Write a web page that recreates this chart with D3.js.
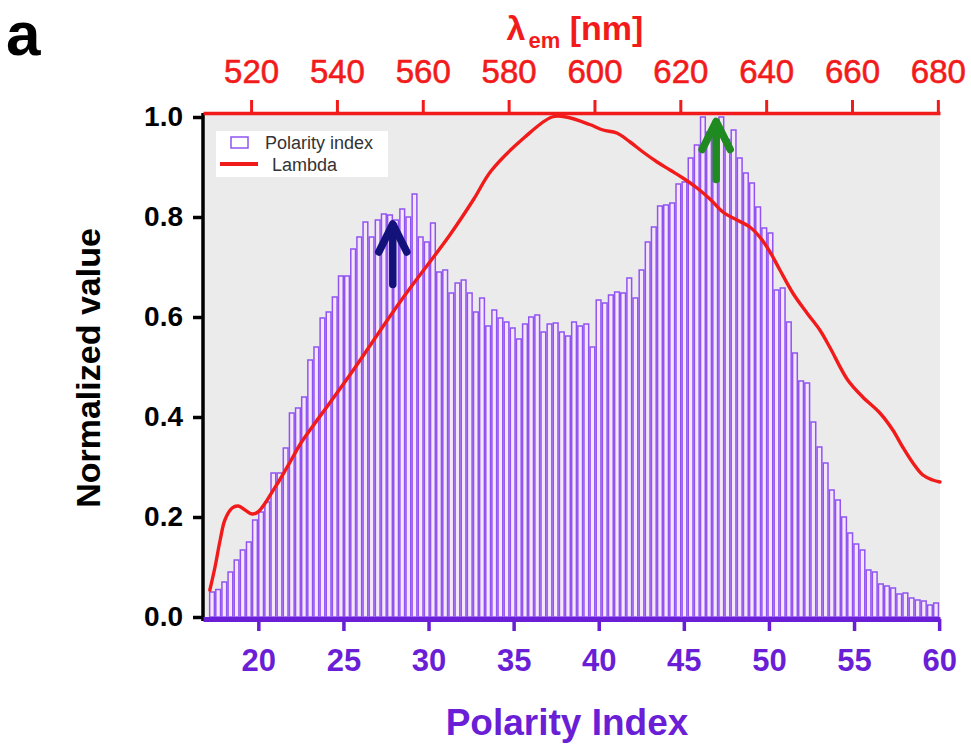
<!DOCTYPE html>
<html>
<head>
<meta charset="utf-8">
<script src="https://cdn.jsdelivr.net/npm/d3@7"></script>
<style>
  html, body { margin: 0; padding: 0; background: #ffffff; }
  svg { display: block; }
  text { font-family: "Liberation Sans", Arial, sans-serif; }
</style>
</head>
<body>
<svg id="chart" width="971" height="747"></svg>
<script>
// ---------------- data ----------------
const binStart = 17.1;
const binWidth = 0.3605;
const polarityCounts = [
  0.050, 0.055, 0.070, 0.090, 0.114, 0.134, 0.150, 0.194, 0.210, 0.230,
  0.288, 0.288, 0.338, 0.408, 0.418, 0.440, 0.514, 0.540, 0.598, 0.610,
  0.640, 0.682, 0.682, 0.736, 0.760, 0.790, 0.760, 0.794, 0.806, 0.804,
  0.794, 0.816, 0.800, 0.846, 0.760, 0.750, 0.788, 0.690, 0.694, 0.648,
  0.668, 0.674, 0.648, 0.610, 0.638, 0.582, 0.614, 0.598, 0.590, 0.578,
  0.556, 0.586, 0.600, 0.604, 0.570, 0.586, 0.588, 0.570, 0.562, 0.590,
  0.582, 0.586, 0.540, 0.634, 0.628, 0.644, 0.650, 0.648, 0.678, 0.638,
  0.694, 0.750, 0.780, 0.822, 0.824, 0.828, 0.866, 0.870, 0.918, 0.944,
  1.000, 0.970, 0.960, 1.000, 0.955, 0.974, 0.918, 0.888, 0.868, 0.820,
  0.778, 0.768, 0.654, 0.658, 0.590, 0.528, 0.472, 0.468, 0.390, 0.340,
  0.308, 0.254, 0.234, 0.200, 0.168, 0.146, 0.134, 0.094, 0.090, 0.066,
  0.062, 0.058, 0.046, 0.048, 0.038, 0.034, 0.032, 0.024, 0.028
];

const lambdaNm = [
  510.4, 511.6, 512.8, 513.9, 515.6, 517.0, 518.6, 520.2, 521.6, 523.3,
  524.9, 526.8, 529.1, 531.4, 534.4, 538.4, 543.5, 554.7, 566.3, 571.9,
  575.9, 583.8, 590.1, 593.4, 598.9, 602.0, 605.2, 608.3, 611.3, 614.6,
  617.6, 620.6, 623.9, 626.9, 629.9, 633.2, 636.2, 638.5, 640.9, 643.2,
  646.2, 649.5, 652.5, 654.8, 659.0, 662.5, 666.5, 669.5, 671.8, 674.2,
  676.5, 678.8, 680.5
];
const lambdaValue = [
  0.054, 0.100, 0.154, 0.194, 0.218, 0.222, 0.214, 0.206, 0.210, 0.228,
  0.250, 0.276, 0.310, 0.345, 0.382, 0.429, 0.490, 0.630, 0.764, 0.836,
  0.892, 0.960, 1.000, 1.000, 0.985, 0.974, 0.968, 0.950, 0.930, 0.910,
  0.894, 0.878, 0.858, 0.836, 0.810, 0.794, 0.780, 0.760, 0.730, 0.694,
  0.648, 0.608, 0.574, 0.540, 0.474, 0.440, 0.408, 0.374, 0.340, 0.308,
  0.284, 0.274, 0.270
];

const yTicks = [0.0, 0.2, 0.4, 0.6, 0.8, 1.0];
const xBottomTicks = [20, 25, 30, 35, 40, 45, 50, 55, 60];
const xTopTicks = [520, 540, 560, 580, 600, 620, 640, 660, 680];
const legendLabels = ["Polarity index", "Lambda"];
// arrows mark polarity-index positions
const arrowPositions = [{pi: 27.9, tip: 0.79, tail: 0.665, color: "#12127a"},
                        {pi: 46.9, tip: 0.995, tail: 0.875, color: "#1f8a1f"}];

// ---------------- drawing ----------------
const svg = d3.select("#chart");
const pLeft = 203, pRight = 940, pTop = 113, pBottom = 619;

const x = d3.scaleLinear().domain([16.75, 60.05]).range([pLeft, pRight]);
const xTop = d3.scaleLinear().domain([508.8, 680.5]).range([pLeft, pRight]);
const y = d3.scaleLinear().domain([0, 1]).range([617, 117]);

const purple = "#6a1fd6";
const red = "#f21b1b";

// plot background
svg.append("rect").attr("x", pLeft).attr("y", pTop).attr("width", pRight - pLeft)
  .attr("height", pBottom - pTop).attr("fill", "#ebebeb");

// bars
svg.append("g").selectAll("rect").data(polarityCounts).join("rect")
  .attr("x", (d, i) => x(binStart + i * binWidth) + 0.7)
  .attr("width", (d, i) => x(binStart + (i + 1) * binWidth) - x(binStart + i * binWidth) - 1.4)
  .attr("y", d => y(d))
  .attr("height", d => y(0) - y(d))
  .attr("fill", "#f5e6fb")
  .attr("stroke", "#9054f0")
  .attr("stroke-width", 1.5);

// lambda curve
const lambdaData = lambdaNm.map((l, i) => ({l, v: lambdaValue[i]}));
svg.append("path").datum(lambdaData)
  .attr("fill", "none").attr("stroke", red).attr("stroke-width", 3.4)
  .attr("stroke-linejoin", "round").attr("stroke-linecap", "round")
  .attr("d", d3.line().x(d => xTop(d.l)).y(d => y(d.v)).curve(d3.curveCatmullRom.alpha(0.5)));

// arrows
arrowPositions.forEach(a => {
  const ax = x(a.pi), ty = y(a.tip), by = y(a.tail);
  const g = svg.append("g").attr("stroke", a.color).attr("stroke-width", 7.5)
    .attr("stroke-linecap", "round").attr("stroke-linejoin", "round").attr("fill", "none");
  g.append("line").attr("x1", ax).attr("x2", ax).attr("y1", by).attr("y2", ty + 3);
  g.append("polyline").attr("points", `${ax - 14},${ty + 30} ${ax},${ty + 2} ${ax + 14},${ty + 30}`);
});

// left axis
const gLeft = svg.append("g").attr("transform", `translate(${pLeft},0)`)
  .call(d3.axisLeft(y).tickValues(yTicks).tickFormat(d3.format(".1f")).tickSize(10).tickSizeOuter(0).tickPadding(10));
gLeft.select(".domain").attr("stroke", "#000").attr("stroke-width", 3.5).attr("d", `M0,${pTop}V${pBottom + 2}`);
gLeft.selectAll(".tick line").attr("stroke", "#000").attr("stroke-width", 3.5);
gLeft.selectAll(".tick text").attr("fill", "#000").attr("font-size", 28).attr("font-weight", "bold");

// bottom axis
const gBottom = svg.append("g").attr("transform", `translate(0,${pBottom})`)
  .call(d3.axisBottom(x).tickValues(xBottomTicks).tickFormat(d3.format("d")).tickSize(12).tickSizeOuter(0).tickPadding(18));
gBottom.select(".domain").attr("stroke", purple).attr("stroke-width", 5);
gBottom.selectAll(".tick line").attr("stroke", purple).attr("stroke-width", 3.5);
gBottom.selectAll(".tick text").attr("fill", purple).attr("font-size", 31).attr("font-weight", "bold");

// top axis
const gTop = svg.append("g").attr("transform", `translate(0,${pTop})`)
  .call(d3.axisTop(xTop).tickValues(xTopTicks).tickFormat(d3.format("d")).tickSize(13).tickSizeOuter(0).tickPadding(17));
gTop.select(".domain").attr("stroke", red).attr("stroke-width", 3.5);
gTop.selectAll(".tick line").attr("stroke", red).attr("stroke-width", 3);
gTop.selectAll(".tick text").attr("fill", red).attr("font-size", 33)
  .attr("stroke", red).attr("stroke-width", 0.6);

// titles
svg.append("text").attr("x", 567).attr("y", 735).attr("text-anchor", "middle")
  .attr("fill", purple).attr("font-size", 37).attr("font-weight", "bold").text("Polarity Index");
svg.append("text").attr("transform", "translate(100,368) rotate(-90)").attr("text-anchor", "middle")
  .attr("fill", "#000").attr("font-size", 34).attr("font-weight", "bold").text("Normalized value");
const tt = svg.append("text").attr("x", 575).attr("y", 40).attr("text-anchor", "middle")
  .attr("fill", red).attr("font-size", 34).attr("font-weight", "bold");
tt.append("tspan").text("λ");
tt.append("tspan").attr("font-size", 22).attr("dx", 3).attr("dy", 8).text("em");
tt.append("tspan").attr("dy", -8).text(" [nm]");
svg.append("text").attr("x", 6).attr("y", 55).attr("fill", "#000")
  .attr("font-size", 62).attr("font-weight", "bold").text("a");

// legend
const lg = svg.append("g");
lg.append("rect").attr("x", 216).attr("y", 131).attr("width", 172).attr("height", 46).attr("fill", "#ffffff");
lg.append("rect").attr("x", 231).attr("y", 137).attr("width", 17).attr("height", 11)
  .attr("fill", "#ffffff").attr("stroke", "#9054f0").attr("stroke-width", 1.5);
lg.append("line").attr("x1", 220).attr("x2", 258).attr("y1", 164).attr("y2", 164)
  .attr("stroke", red).attr("stroke-width", 3.8);
lg.append("text").attr("x", 265).attr("y", 149).attr("font-size", 18).attr("fill", "#333").text(legendLabels[0]);
lg.append("text").attr("x", 272).attr("y", 171).attr("font-size", 18).attr("fill", "#333").text(legendLabels[1]);
</script>
</body>
</html>
